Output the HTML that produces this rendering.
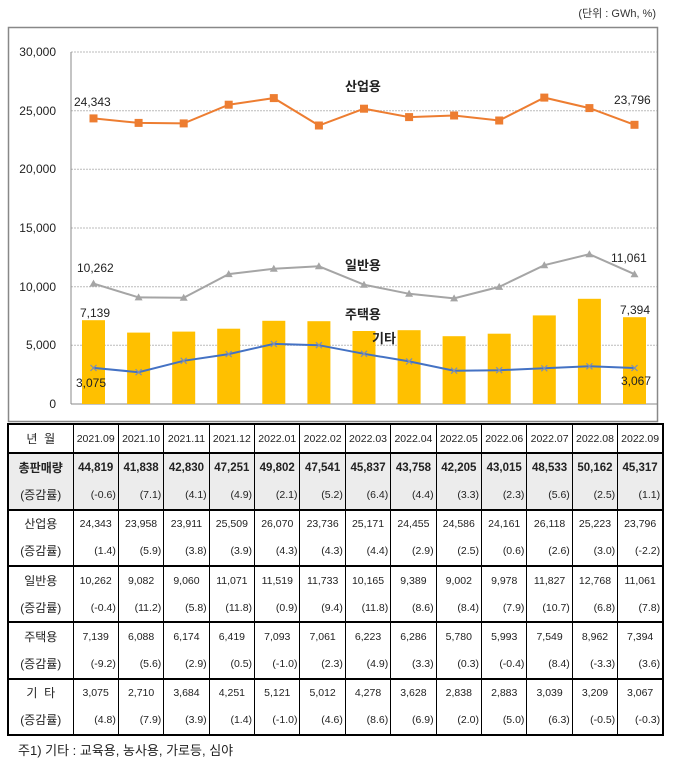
<!DOCTYPE html>
<html><head><meta charset="utf-8"><style>
body{margin:0;background:#fff;width:679px;height:783px;position:relative;overflow:hidden;font-family:"Liberation Sans","Noto Sans CJK KR",sans-serif;}
svg{position:absolute;left:0;top:0}
table{position:absolute;left:7px;top:423px;border-collapse:collapse;table-layout:fixed;width:655px;border:2px solid #000;font-size:10.5px;color:#222}
td{border-left:1px solid #000;text-align:center;padding:0;height:27.2px;line-height:12px;white-space:nowrap}
td.l{font-size:12px}
tr.g td{border-top:2px solid #000}
tr.s td{background:#ececec}
td.r{text-align:right;padding-right:2px}
.b{font-weight:bold;font-size:11.5px}
.note{position:absolute;left:18px;top:740px;font-size:13px;color:#222}
</style></head><body>
<svg width="679" height="425" xmlns="http://www.w3.org/2000/svg" font-family="Liberation Sans, Noto Sans CJK KR, sans-serif">
<text x="656" y="17" font-size="11" text-anchor="end" fill="#333">(단위 : GWh, %)</text>
<rect x="8.5" y="27.5" width="649" height="394" fill="#fff" stroke="#888" stroke-width="1.5"/>
<g stroke="#bbb" stroke-dasharray="2,1" stroke-width="1">
<line x1="71" y1="52" x2="657" y2="52"/><line x1="71" y1="110.7" x2="657" y2="110.7"/><line x1="71" y1="169.3" x2="657" y2="169.3"/><line x1="71" y1="228" x2="657" y2="228"/><line x1="71" y1="286.7" x2="657" y2="286.7"/><line x1="71" y1="345.3" x2="657" y2="345.3"/>
</g>
<line x1="71" y1="52" x2="71" y2="404" stroke="#888"/>
<line x1="71" y1="404" x2="657" y2="404" stroke="#888"/>
<g font-size="12" text-anchor="end" fill="#222">
<text x="56" y="56">30,000</text><text x="56" y="115">25,000</text><text x="56" y="173">20,000</text><text x="56" y="232">15,000</text><text x="56" y="291">10,000</text><text x="56" y="349">5,000</text><text x="56" y="408">0</text>
</g>
<g fill="#FFC000">
<rect x="82" y="320.2" width="23" height="83.8"/><rect x="127.1" y="332.6" width="23" height="71.4"/><rect x="172.2" y="331.6" width="23" height="72.4"/><rect x="217.2" y="328.7" width="23" height="75.3"/><rect x="262.3" y="320.8" width="23" height="83.2"/><rect x="307.4" y="321.2" width="23" height="82.8"/><rect x="352.5" y="331" width="23" height="73"/><rect x="397.6" y="330.2" width="23" height="73.8"/><rect x="442.6" y="336.2" width="23" height="67.8"/><rect x="487.7" y="333.7" width="23" height="70.3"/><rect x="532.8" y="315.4" width="23" height="88.6"/><rect x="577.9" y="298.8" width="23" height="105.2"/><rect x="623" y="317.2" width="23" height="86.8"/>
</g>
<polyline fill="none" stroke="#ED7D31" stroke-width="2" points="93.5,118.4 138.6,122.9 183.7,123.4 228.7,104.7 273.8,98.1 318.9,125.5 364,108.7 409.1,117.1 454.1,115.5 499.2,120.5 544.3,97.6 589.4,108.1 634.5,124.8"/>
<g fill="#ED7D31">
<rect x="89.5" y="114.4" width="8" height="8"/><rect x="134.6" y="118.9" width="8" height="8"/><rect x="179.7" y="119.4" width="8" height="8"/><rect x="224.7" y="100.7" width="8" height="8"/><rect x="269.8" y="94.1" width="8" height="8"/><rect x="314.9" y="121.5" width="8" height="8"/><rect x="360" y="104.7" width="8" height="8"/><rect x="405.1" y="113.1" width="8" height="8"/><rect x="450.1" y="111.5" width="8" height="8"/><rect x="495.2" y="116.5" width="8" height="8"/><rect x="540.3" y="93.6" width="8" height="8"/><rect x="585.4" y="104.1" width="8" height="8"/><rect x="630.5" y="120.8" width="8" height="8"/>
</g>
<polyline fill="none" stroke="#A5A5A5" stroke-width="2" points="93.5,283.6 138.6,297.4 183.7,297.7 228.7,274.1 273.8,268.8 318.9,266.3 364,284.7 409.1,293.8 454.1,298.4 499.2,286.9 544.3,265.2 589.4,254.2 634.5,274.2"/>
<g fill="#A5A5A5">
<path d="M93.5,279.6l4,7h-8z M138.6,293.4l4,7h-8z M183.7,293.7l4,7h-8z M228.7,270.1l4,7h-8z M273.8,264.8l4,7h-8z M318.9,262.3l4,7h-8z M364,280.7l4,7h-8z M409.1,289.8l4,7h-8z M454.1,294.4l4,7h-8z M499.2,282.9l4,7h-8z M544.3,261.2l4,7h-8z M589.4,250.2l4,7h-8z M634.5,270.2l4,7h-8z"/>
</g>
<polyline fill="none" stroke="#4472C4" stroke-width="2" points="93.5,367.9 138.6,372.2 183.7,360.8 228.7,354.1 273.8,343.9 318.9,345.2 364,353.8 409.1,361.4 454.1,370.7 499.2,370.2 544.3,368.3 589.4,366.3 634.5,368"/>
<g stroke="#7f8fb0" stroke-width="1.2">
<path d="M90.5,364.9l6,6m0,-6l-6,6 M135.6,369.2l6,6m0,-6l-6,6 M180.7,357.8l6,6m0,-6l-6,6 M225.7,351.1l6,6m0,-6l-6,6 M270.8,340.9l6,6m0,-6l-6,6 M315.9,342.2l6,6m0,-6l-6,6 M361,350.8l6,6m0,-6l-6,6 M406.1,358.4l6,6m0,-6l-6,6 M451.1,367.7l6,6m0,-6l-6,6 M496.2,367.2l6,6m0,-6l-6,6 M541.3,365.3l6,6m0,-6l-6,6 M586.4,363.3l6,6m0,-6l-6,6 M631.5,365l6,6m0,-6l-6,6"/>
</g>
<g font-size="12" fill="#222">
<text x="74" y="106">24,343</text><text x="614" y="104">23,796</text>
<text x="77" y="272">10,262</text><text x="611" y="262">11,061</text>
<text x="80" y="317">7,139</text><text x="620" y="314">7,394</text>
<text x="76" y="387">3,075</text><text x="621" y="385">3,067</text>
</g>
<g font-size="13" font-weight="bold" fill="#222">
<text x="345" y="91">산업용</text><text x="345" y="270">일반용</text><text x="345" y="319">주택용</text><text x="372" y="343">기타</text>
</g>
</svg>
<table>
<colgroup><col style="width:65px"><col span="13" style="width:45.4px"></colgroup>
<tr><td class="l">년 &nbsp;월</td><td>2021.09</td><td>2021.10</td><td>2021.11</td><td>2021.12</td><td>2022.01</td><td>2022.02</td><td>2022.03</td><td>2022.04</td><td>2022.05</td><td>2022.06</td><td>2022.07</td><td>2022.08</td><td>2022.09</td></tr>
<tr class="g s"><td class="l b">총판매량</td><td class="b">44,819</td><td class="b">41,838</td><td class="b">42,830</td><td class="b">47,251</td><td class="b">49,802</td><td class="b">47,541</td><td class="b">45,837</td><td class="b">43,758</td><td class="b">42,205</td><td class="b">43,015</td><td class="b">48,533</td><td class="b">50,162</td><td class="b">45,317</td></tr>
<tr class="s"><td class="l">(증감률)</td><td class="r">(-0.6)</td><td class="r">(7.1)</td><td class="r">(4.1)</td><td class="r">(4.9)</td><td class="r">(2.1)</td><td class="r">(5.2)</td><td class="r">(6.4)</td><td class="r">(4.4)</td><td class="r">(3.3)</td><td class="r">(2.3)</td><td class="r">(5.6)</td><td class="r">(2.5)</td><td class="r">(1.1)</td></tr>
<tr class="g"><td class="l">산업용</td><td>24,343</td><td>23,958</td><td>23,911</td><td>25,509</td><td>26,070</td><td>23,736</td><td>25,171</td><td>24,455</td><td>24,586</td><td>24,161</td><td>26,118</td><td>25,223</td><td>23,796</td></tr>
<tr><td class="l">(증감률)</td><td class="r">(1.4)</td><td class="r">(5.9)</td><td class="r">(3.8)</td><td class="r">(3.9)</td><td class="r">(4.3)</td><td class="r">(4.3)</td><td class="r">(4.4)</td><td class="r">(2.9)</td><td class="r">(2.5)</td><td class="r">(0.6)</td><td class="r">(2.6)</td><td class="r">(3.0)</td><td class="r">(-2.2)</td></tr>
<tr class="g"><td class="l">일반용</td><td>10,262</td><td>9,082</td><td>9,060</td><td>11,071</td><td>11,519</td><td>11,733</td><td>10,165</td><td>9,389</td><td>9,002</td><td>9,978</td><td>11,827</td><td>12,768</td><td>11,061</td></tr>
<tr><td class="l">(증감률)</td><td class="r">(-0.4)</td><td class="r">(11.2)</td><td class="r">(5.8)</td><td class="r">(11.8)</td><td class="r">(0.9)</td><td class="r">(9.4)</td><td class="r">(11.8)</td><td class="r">(8.6)</td><td class="r">(8.4)</td><td class="r">(7.9)</td><td class="r">(10.7)</td><td class="r">(6.8)</td><td class="r">(7.8)</td></tr>
<tr class="g"><td class="l">주택용</td><td>7,139</td><td>6,088</td><td>6,174</td><td>6,419</td><td>7,093</td><td>7,061</td><td>6,223</td><td>6,286</td><td>5,780</td><td>5,993</td><td>7,549</td><td>8,962</td><td>7,394</td></tr>
<tr><td class="l">(증감률)</td><td class="r">(-9.2)</td><td class="r">(5.6)</td><td class="r">(2.9)</td><td class="r">(0.5)</td><td class="r">(-1.0)</td><td class="r">(2.3)</td><td class="r">(4.9)</td><td class="r">(3.3)</td><td class="r">(0.3)</td><td class="r">(-0.4)</td><td class="r">(8.4)</td><td class="r">(-3.3)</td><td class="r">(3.6)</td></tr>
<tr class="g"><td class="l">기 &nbsp;타</td><td>3,075</td><td>2,710</td><td>3,684</td><td>4,251</td><td>5,121</td><td>5,012</td><td>4,278</td><td>3,628</td><td>2,838</td><td>2,883</td><td>3,039</td><td>3,209</td><td>3,067</td></tr>
<tr><td class="l">(증감률)</td><td class="r">(4.8)</td><td class="r">(7.9)</td><td class="r">(3.9)</td><td class="r">(1.4)</td><td class="r">(-1.0)</td><td class="r">(4.6)</td><td class="r">(8.6)</td><td class="r">(6.9)</td><td class="r">(2.0)</td><td class="r">(5.0)</td><td class="r">(6.3)</td><td class="r">(-0.5)</td><td class="r">(-0.3)</td></tr>
</table>
<div class="note">주1) 기타 : 교육용, 농사용, 가로등, 심야</div>
</body></html>
